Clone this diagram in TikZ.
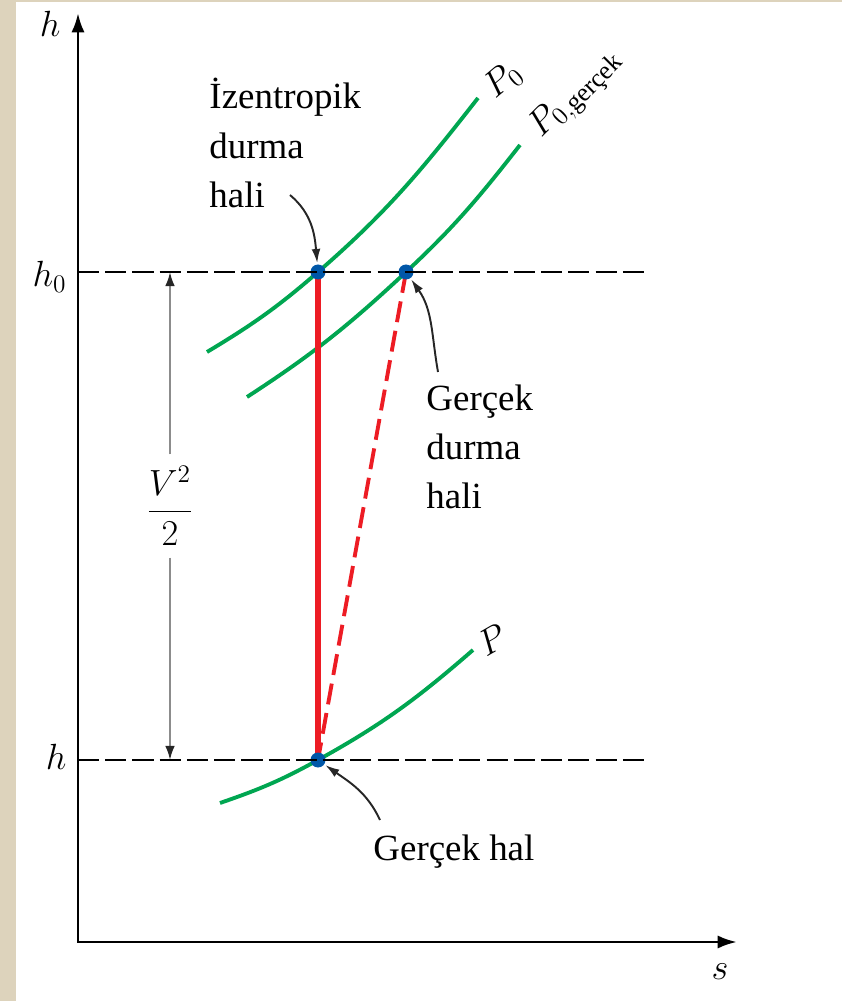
\documentclass[tikz,border=0pt]{standalone}
\usepackage{amsmath}
\usepackage{fontspec}
\setmainfont{Liberation Serif}
\usetikzlibrary{arrows.meta, positioning, backgrounds}
\definecolor{isoc}{HTML}{00A651}
\definecolor{redc}{HTML}{ED1C24}
\definecolor{dotc}{HTML}{0057A8}
\definecolor{paperc}{HTML}{DDD3BC}

\begin{document}
\begin{tikzpicture}[>={Latex[length=11pt,width=7.5pt]}, line width=1.7pt,
    font=\fontsize{21}{28}\selectfont,
    isobar/.style={isoc, line width=2.2pt},
    hline/.style={dash pattern=on 12pt off 3.5pt},
    state/.style={circle, fill=dotc, minimum size=0.3cm, inner sep=0pt},
    pointer/.style={-{Latex[length=8pt,width=5pt]}, line width=1.1pt, black!85},
    dim/.style={-{Latex[length=8pt,width=5.5pt,black!85]}, draw=black!45,
                line width=1.2pt},
    lbl/.style={align=left, inner sep=0pt}]
  \useasboundingbox (-1.56,-1.18) rectangle (15.28,18.84);
  % paper edge
  \fill[paperc] (-1.56,-1.18) rectangle (-1.24,18.84);
  \fill[paperc] (-1.56,18.80) rectangle (15.28,18.84);
  % axes
  \coordinate (o) at (0,0);
  \coordinate (ytip) at (0,18.58);
  \coordinate (xtip) at (13.18,0);
  \draw[<->] (ytip) -- (o) -- (xtip);
  \node[anchor=east, inner sep=0pt] (hax) at (-0.32,18.36) {$h$};
  \node (sax) at (12.84,-0.60) {$s$};
  % states
  \node[state] (A) at (4.80,13.40) {};
  \node[state] (B) at (6.56,13.40) {};
  \node[state] (C) at (4.80,3.64) {};
  % enthalpy levels
  \coordinate (h0l) at (0,13.40);
  \coordinate (h0r) at (11.44,13.40);
  \coordinate (hl) at (0,3.64);
  \coordinate (hr) at (11.44,3.64);
  \draw[hline] (h0l) -- (h0r);
  \draw[hline] (hl) -- (hr);
  \node[anchor=east, inner sep=0pt] (h0lbl) at (-0.20,13.30) {$h_0$};
  \node[anchor=east, inner sep=0pt] (hlbl) at (-0.20,3.70) {$h$};
  % kinetic energy
  \node[inner sep=6pt] (ke) at (1.84,8.72) {$\dfrac{V^2}{2}$};
  \coordinate (ket) at (1.84,13.40);
  \coordinate (keb) at (1.84,3.64);
  \draw[dim] (ke) -- (ket);
  \draw[dim] (ke) -- (keb);
  % isobars and process lines
  \begin{scope}[on background layer]
    \draw[isobar] (2.58,11.80) to[out=31,in=221] (A.center)
                  to[out=41,in=232] (8.00,16.88);
    \draw[isobar] (3.38,10.90) to[out=33,in=223] (B.center)
                  to[out=43,in=232] (8.84,15.94);
    \draw[isobar] (2.84,2.78) to[out=19,in=209] (C.center)
                  to[out=29,in=221] (7.90,5.84);
    \draw[redc, line width=3.2pt] (A.center) -- (C.center);
    \draw[redc, line width=2.2pt, dash pattern=on 12pt off 5pt]
         (B.center) -- (C.center);
  \end{scope}
  \node[rotate=40] (p0) at (8.50,17.24) {$P_0$};
  \node[rotate=45] (p0g) at (9.96,16.96) {$P_{0,\text{gerçek}}$};
  \node[rotate=30] (pl) at (8.28,6.04) {$P$};
  % labels
  \node[lbl, anchor=north west] (izlbl) at (2.60,17.30) {İzentropik\\durma\\hali};
  \node[lbl, anchor=north west] (gdlbl) at (6.94,11.18) {Gerçek\\durma\\hali};
  \node[lbl, anchor=base west] (ghlbl) at (5.88,1.64) {Gerçek hal};
  \coordinate (iztail) at (4.24,14.94);
  \coordinate (gdtail) at (7.20,11.40);
  \coordinate (ghtail) at (6.04,2.44);
  \draw[pointer] (iztail) to[out=-40,in=95] (A);
  \draw[pointer] (gdtail) to[out=100,in=-55] (B);
  \draw[pointer] (ghtail) to[out=115,in=-35] (C);
\end{tikzpicture}
\end{document}
